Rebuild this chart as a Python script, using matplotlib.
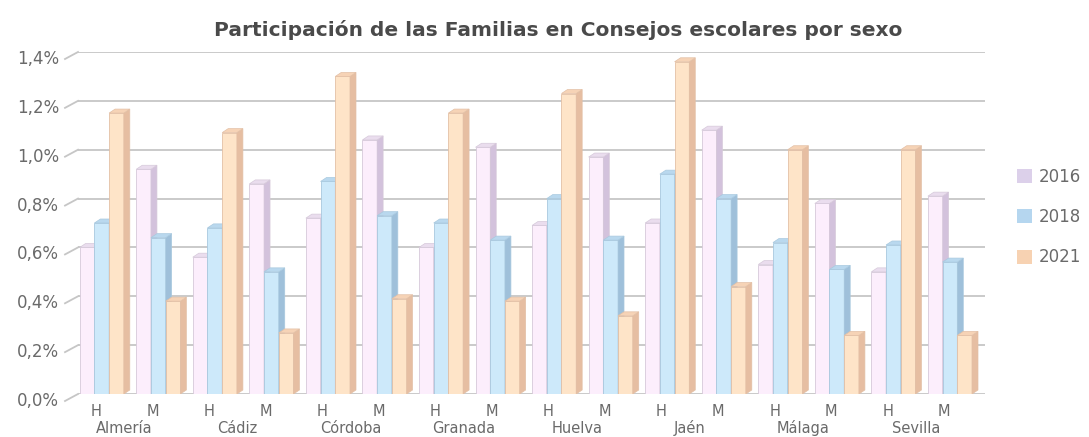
import matplotlib.pyplot as plt
from matplotlib.patches import Polygon, Patch
import numpy as np

plt.rcParams['font.family'] = ['DejaVu Sans']

# Datos (% de participación), por provincia y sexo (H, M)
provincias = ["Almería", "Cádiz", "Córdoba", "Granada", "Huelva", "Jaén", "Málaga", "Sevilla"]
sexos = ["H", "M"]
anios = ["2016", "2018", "2021"]
v2016 = [0.60, 0.92, 0.56, 0.86, 0.72, 1.04, 0.60, 1.01, 0.69, 0.97, 0.70, 1.08, 0.53, 0.78, 0.50, 0.81]
v2018 = [0.70, 0.64, 0.68, 0.50, 0.87, 0.73, 0.70, 0.63, 0.80, 0.63, 0.90, 0.80, 0.62, 0.51, 0.61, 0.54]
v2021 = [1.15, 0.38, 1.07, 0.25, 1.30, 0.39, 1.15, 0.38, 1.23, 0.32, 1.36, 0.44, 1.00, 0.24, 1.00, 0.24]
yticks = [0.0, 0.2, 0.4, 0.6, 0.8, 1.0, 1.2, 1.4]

series = [v2016, v2018, v2021]
front_col = ["#FCEEFC", "#CDE9FA", "#FEE4C8"]
side_col = ["#D3C2DC", "#9FC0DA", "#E6BEA2"]
top_col = ["#EADDEE", "#B9D8EE", "#F6D3B6"]
edge_col = ["#D6C9DA", "#A9C9DF", "#E3C0A6"]
legend_col = ["#DCD0EA", "#B5D6EF", "#F7D2B2"]

W, H = 1089, 437
fig = plt.figure(figsize=(W / 100, H / 100), dpi=100)
ax_left, ax_right = 78, 985
ax_top, ax_bot = 52, 394
ax = fig.add_axes([ax_left / W, 1 - ax_bot / H, (ax_right - ax_left) / W, (ax_bot - ax_top) / H])

xmin, xmax = -0.42, 15.62
ymin, ymax = 0.0, 1.4
ax.set_xlim(xmin, xmax)
ax.set_ylim(ymin, ymax)
for s in ax.spines.values():
    s.set_visible(False)
ax.set_xticks([])
ax.set_yticks([])

# pixel -> data conversion
px_x = (xmax - xmin) / (ax_right - ax_left)
px_y = (ymax - ymin) / (ax_bot - ax_top)
dx, dy = 6 * px_x, 4 * px_y

# gridlines (back wall) with diagonal connectors to the labels
for v in yticks:
    ax.axhline(v, color="#C6C6C6", lw=1.3, zorder=0)
    ax.plot([xmin - 13 * px_x, xmin], [v - 7 * px_y, v], color="#C6C6C6", lw=1.3,
            clip_on=False, zorder=0)
    ax.text(xmin - 19 * px_x, v - 7 * px_y, ("%.1f%%" % v).replace(".", ","),
            ha="right", va="center", fontsize=12, color="#6A6A6A")

# bars with a simple 3D look
w = 0.26
x = np.arange(len(v2016))
z = 2
for i in range(len(x)):
    for j, vals in enumerate(series):
        h = vals[i]
        x0 = x[i] - 1.5 * w + j * w
        ax.bar(x0, h, width=w, align="edge", color=front_col[j], edgecolor=edge_col[j],
               lw=0.6, zorder=z)
        ax.add_patch(Polygon([(x0 + w, 0), (x0 + w, h), (x0 + w + dx, h + dy), (x0 + w + dx, dy)],
                             closed=True, facecolor=side_col[j], edgecolor=edge_col[j],
                             lw=0.5, zorder=z))
        ax.add_patch(Polygon([(x0, h), (x0 + w, h), (x0 + w + dx, h + dy), (x0 + dx, h + dy)],
                             closed=True, facecolor=top_col[j], edgecolor=edge_col[j],
                             lw=0.5, zorder=z))
        z += 1

# category labels
tr = ax.get_xaxis_transform()
for i in range(len(x)):
    ax.text(x[i] - 0.1, -22 / (ax_bot - ax_top), sexos[i % 2], ha="center", va="baseline",
            fontsize=10.5, color="#6A6A6A", transform=tr)
for k, p in enumerate(provincias):
    ax.text(2 * k + 0.4, -39 / (ax_bot - ax_top), p, ha="center", va="baseline",
            fontsize=10.5, color="#6A6A6A", transform=tr)

fig.text(0.513, 1 - 30 / H, "Participación de las Familias en Consejos escolares por sexo",
         ha="center", va="center", fontsize=14.5, fontweight="bold", color="#4A4A4A")

handles = [Patch(facecolor=c, edgecolor="none") for c in legend_col]
fig.legend(handles, anios, loc="center left", bbox_to_anchor=(1002 / W, 1 - 217 / H),
           frameon=False, fontsize=12, labelspacing=1.35, handlelength=0.9,
           handleheight=0.9, handletextpad=0.4, labelcolor="#6A6A6A")

fig.savefig("out.png", dpi=100)
